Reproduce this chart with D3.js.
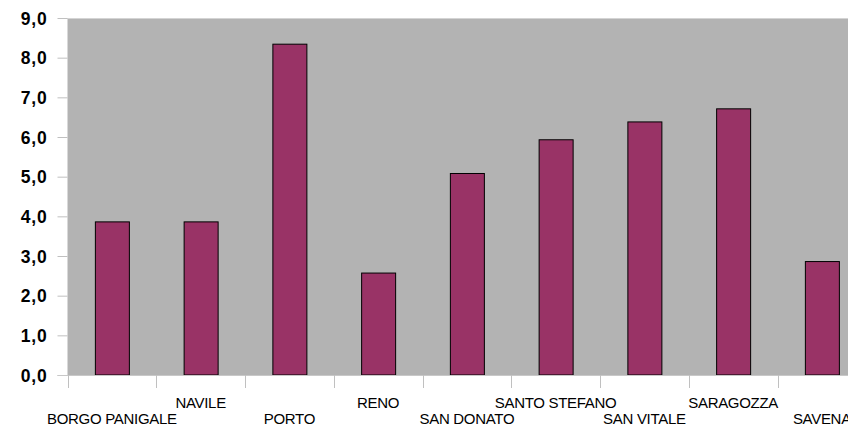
<!DOCTYPE html>
<html><head><meta charset="utf-8">
<script src="https://cdn.jsdelivr.net/npm/d3@7"></script>
<style>body{margin:0;background:#fff}svg{display:block}</style>
</head><body>
<svg id="c" width="848" height="426"></svg>
<script>
const categories = ["BORGO PANIGALE","NAVILE","PORTO","RENO","SAN DONATO","SANTO STEFANO","SAN VITALE","SARAGOZZA","SAVENA"];
const values = [3.86, 3.86, 8.34, 2.57, 5.08, 5.93, 6.38, 6.71, 2.86];
const yTicks = [0,1,2,3,4,5,6,7,8,9];
const fmt = v => v.toFixed(1).replace(".", ",");

const svg = d3.select("#c");
const pLeft = 67.5, pTop = 18, pBottom = 375, pRight = 866.25;
const x = d3.scaleBand().domain(categories).range([pLeft, pRight]).paddingInner(0).paddingOuter(0);
const y = d3.scaleLinear().domain([0, 9]).range([pBottom, pTop]);

svg.append("rect").attr("x", pLeft).attr("y", pTop).attr("width", pRight-pLeft).attr("height", pBottom-pTop).attr("fill", "#b3b3b3");
svg.append("line").attr("x1", pLeft).attr("x2", 848).attr("y1", pTop+0.5).attr("y2", pTop+0.5).attr("stroke", "#d4d4d4");

// y axis
const ya = svg.append("g").attr("transform", `translate(${pLeft},0)`)
  .call(d3.axisLeft(y).tickValues(yTicks).tickFormat(fmt).tickSize(10).tickPadding(10));
ya.select(".domain").remove();
ya.selectAll(".tick line").attr("stroke", "#c0c0c0");
ya.selectAll(".tick text").attr("fill", "#000").attr("font-family", "Liberation Sans, Arial, sans-serif")
  .attr("font-size", 17.5).attr("font-weight", "bold").attr("letter-spacing", "0.8").attr("dy", "0.36em");

// bars
const bw = 34;
svg.append("g").selectAll("rect").data(values).join("rect")
  .attr("x", (d,i) => x(categories[i]) + x.bandwidth()/2 - bw/2 + 0.5)
  .attr("y", d => y(d))
  .attr("width", bw)
  .attr("height", d => pBottom - y(d))
  .attr("fill", "#993366").attr("stroke", "#000").attr("stroke-width", 1);

// x axis
svg.append("line").attr("x1", pLeft-10).attr("x2", 848).attr("y1", pBottom+0.5).attr("y2", pBottom+0.5).attr("stroke", "#c8c8c8");
const bounds = categories.map(c => x(c));
svg.append("g").selectAll("line").data(bounds).join("line")
  .attr("x1", d => Math.round(d)+0.5).attr("x2", d => Math.round(d)+0.5)
  .attr("y1", pBottom).attr("y2", pBottom+13).attr("stroke", "#c0c0c0");
svg.append("g").selectAll("text").data(categories).join("text")
  .attr("x", d => x(d) + x.bandwidth()/2)
  .attr("y", (d,i) => i % 2 === 0 ? 424 : 408)
  .attr("text-anchor", "middle")
  .attr("font-family", "Liberation Sans, Arial, sans-serif").attr("font-size", 15)
  .attr("letter-spacing", "-0.3")
  .text(d => d);
</script>
</body></html>
